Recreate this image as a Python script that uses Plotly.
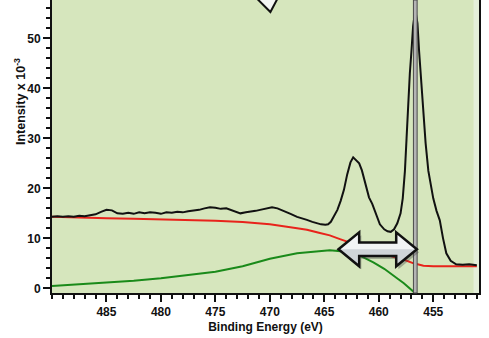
import plotly.graph_objects as go

# ---- measured spectrum (binding energy in eV, intensity x 10^-3) ----
energy_meas = [
    490.0, 489.5, 489.0, 488.5, 488.0, 487.5, 487.0, 486.5, 486.0, 485.5,
    485.0, 484.5, 484.0, 483.5, 483.0, 482.5, 482.0, 481.5, 481.0, 480.5,
    480.0, 479.5, 479.0, 478.5, 478.0, 477.5, 477.0, 476.5, 476.0, 475.5,
    475.0, 474.5, 474.0, 473.5, 473.0, 472.7, 472.2, 471.8, 471.3, 470.9,
    470.4, 469.8, 469.3, 468.7, 468.1, 467.5, 467.0, 466.6, 466.1, 465.7,
    465.3, 464.9, 464.65, 464.4, 464.1, 463.8, 463.5, 463.2, 462.9, 462.6,
    462.35, 462.1, 461.8, 461.55, 461.2, 460.9, 460.6, 460.2, 459.9, 459.5,
    459.2, 458.9, 458.6, 458.3, 458.0, 457.8, 457.6, 457.45, 457.3, 457.15,
    457.0, 456.85, 456.65, 456.45, 456.3, 456.15, 456.0, 455.85, 455.7, 455.45,
    455.2, 455.0, 454.7, 454.4, 454.1, 453.8, 453.4, 452.9, 452.3, 451.7, 451.0,
]
counts_meas = [
    14.3, 14.4, 14.3, 14.4, 14.3, 14.5, 14.4, 14.6, 14.8, 15.3,
    15.7, 15.6, 15.0, 14.9, 15.1, 14.9, 15.2, 15.0, 15.2, 15.1,
    14.9, 15.2, 15.1, 15.3, 15.2, 15.4, 15.5, 15.7, 16.0, 16.2,
    16.1, 15.9, 16.0, 15.6, 15.3, 15.0, 15.2, 15.3, 15.5, 15.7,
    15.9, 16.2, 16.0, 15.5, 14.9, 14.3, 14.0, 13.7, 13.3, 13.0,
    12.8, 12.7, 12.8, 13.3, 14.4, 15.7, 17.5, 19.7, 22.8, 25.2,
    26.2, 25.7, 25.0, 23.6, 20.5, 18.2, 16.9, 14.5, 12.8, 11.8,
    11.4, 11.3, 11.8, 13.0, 15.0, 18.0, 23.5, 30.0, 37.5, 43.0,
    47.5, 52.5, 55.7, 53.0, 47.5, 42.5, 37.5, 33.0, 29.0, 23.5,
    20.5, 18.0, 15.5, 13.6, 10.0, 7.0, 5.5, 4.8, 4.7, 4.8, 4.6,
]

# ---- background curve ----
energy_bg = [
    490.0, 487.5, 485.0, 482.5, 480.0, 477.5, 475.0, 472.5, 470.0, 467.5,
    466.6, 465.5, 464.5, 463.5, 462.5, 461.5, 460.5, 459.5, 458.5, 457.8,
    456.8, 455.9, 455.0, 453.0, 451.0,
]
counts_bg = [
    14.3, 14.1, 14.0, 13.9, 13.8, 13.65, 13.5, 13.25, 12.8, 12.0,
    11.7, 11.1, 10.6, 9.8, 9.1, 8.3, 7.5, 6.8, 6.2, 5.8,
    5.0, 4.5, 4.4, 4.4, 4.4,
]

# ---- fitted component ----
energy_comp = [
    490.0, 487.5, 485.0, 482.5, 480.0, 477.5, 475.0, 472.5, 470.0, 467.5,
    465.5, 464.5, 463.5, 462.5, 461.5, 460.5, 459.5, 458.9, 458.2, 457.7,
    457.2, 456.7,
]
counts_comp = [
    0.45, 0.8, 1.1, 1.5, 2.0, 2.6, 3.3, 4.4, 5.9, 7.0,
    7.5, 7.6, 7.4, 7.0, 6.3, 5.2, 3.9, 3.0, 1.8, 1.0,
    0.1, -0.9,
]

# ---- axis ticks ----
x_tick_vals = [485, 480, 475, 470, 465, 460, 455]
x_tick_text = ["485", "480", "475", "470", "465", "460", "455"]
y_tick_vals = [0, 10, 20, 30, 40, 50]
y_tick_text = ["0", "10", "20", "30", "40", "50"]

# ---- annotation positions (eV / intensity) ----
marker_ev = 456.65
arrow_from_ev = 463.7
arrow_to_ev = 456.5
arrow_level = 7.8

x_range = [490.0, 450.8]
y_range = [-0.94, 57.7]

tick_font = dict(family="Liberation Sans, Arial, sans-serif", size=12, color="#111")


def closed_path(points):
    return "M " + " L ".join(f"{x},{y}" for x, y in points) + " Z"


def double_arrow(left, right, level, head_len=1.9, head_half=3.4, shaft_half=1.35):
    return [
        (left, level),
        (left - head_len, level + head_half),
        (left - head_len, level + shaft_half),
        (right + head_len, level + shaft_half),
        (right + head_len, level + head_half),
        (right, level),
        (right + head_len, level - head_half),
        (right + head_len, level - shaft_half),
        (left - head_len, level - shaft_half),
        (left - head_len, level - head_half),
    ]


fig = go.Figure()

fig.add_trace(go.Scatter(
    x=energy_comp, y=counts_comp, mode="lines",
    line=dict(color="#1a8a1a", width=2), showlegend=False, hoverinfo="skip",
))
fig.add_trace(go.Scatter(
    x=energy_bg, y=counts_bg, mode="lines",
    line=dict(color="#e8231b", width=2), showlegend=False, hoverinfo="skip",
))
fig.add_trace(go.Scatter(
    x=energy_meas, y=counts_meas, mode="lines",
    line=dict(color="#111111", width=2), showlegend=False, hoverinfo="skip",
))

arrow_pts = double_arrow(arrow_from_ev, arrow_to_ev, arrow_level)
upper_half = arrow_pts[:6]

shapes = []
# pale strip along the right edge of the plot area
shapes.append(dict(
    type="rect", xref="x", yref="paper", x0=451.3, x1=x_range[1], y0=0, y1=1,
    fillcolor="#e4efda", line=dict(width=0), layer="below",
))
# vertical position marker
shapes.append(dict(
    type="rect", xref="x", yref="paper", x0=marker_ev + 0.17, x1=marker_ev - 0.17,
    y0=0, y1=1, fillcolor="#b4b4b4", line=dict(color="#4a4a4a", width=1), layer="above",
))
# double-headed arrow: soft shadow, grey body, light upper half, dark outline
shadow = [(x - 0.2, y - 0.6) for x, y in arrow_pts]
shapes.append(dict(
    type="path", xref="x", yref="y", path=closed_path(shadow),
    fillcolor="rgba(60,60,60,0.35)", line=dict(width=0), layer="above",
))
shapes.append(dict(
    type="path", xref="x", yref="y", path=closed_path(arrow_pts),
    fillcolor="#cfd4d8", line=dict(width=0), layer="above",
))
shapes.append(dict(
    type="path", xref="x", yref="y", path=closed_path(upper_half),
    fillcolor="#f2f4f5", line=dict(width=0), layer="above",
))
shapes.append(dict(
    type="path", xref="x", yref="y", path=closed_path(arrow_pts),
    fillcolor="rgba(0,0,0,0)", line=dict(color="#111111", width=2.5), layer="above",
))
# tip of a pointer arrow entering from the top edge
shapes.append(dict(
    type="path", xref="x", yref="y",
    path=closed_path([(471.33, 58.3), (469.22, 58.3), (469.95, 55.3)]),
    fillcolor="#f4f6f4", line=dict(color="#111111", width=2), layer="above",
))

fig.update_layout(
    width=489, height=338,
    autosize=False,
    margin=dict(l=52, r=10, t=0, b=45),
    paper_bgcolor="white",
    plot_bgcolor="#d6e6bd",
    shapes=shapes,
    annotations=[dict(
        text="<b>Intensity x 10<sup>-3</sup></b>",
        xref="paper", yref="paper", x=-0.075, y=0.655,
        textangle=-90, showarrow=False,
        font=dict(family="Liberation Sans, Arial, sans-serif", size=12.5, color="#111"),
        xanchor="center", yanchor="middle",
    )],
)

fig.update_xaxes(
    range=x_range,
    tickvals=x_tick_vals, ticktext=[f"<b>{t}</b>" for t in x_tick_text],
    ticks="outside", ticklen=7, tickwidth=2, tickcolor="#111",
    minor=dict(dtick=1, tick0=0, ticks="outside", ticklen=4, tickwidth=2, tickcolor="#111"),
    showline=True, linecolor="#111", linewidth=2,
    showgrid=False, zeroline=False,
    tickfont=tick_font,
    title=dict(text="<b>Binding Energy (eV)</b>", font=tick_font, standoff=4),
)
fig.update_yaxes(
    range=y_range,
    tickvals=y_tick_vals, ticktext=[f"<b>{t}</b>" for t in y_tick_text],
    ticks="outside", ticklen=7, tickwidth=2, tickcolor="#111",
    minor=dict(dtick=2, tick0=0, ticks="outside", ticklen=4, tickwidth=2, tickcolor="#111"),
    showline=True, linecolor="#111", linewidth=2, mirror=True,
    showgrid=False, zeroline=False,
    tickfont=tick_font,
)

fig.write_html("out.html")
